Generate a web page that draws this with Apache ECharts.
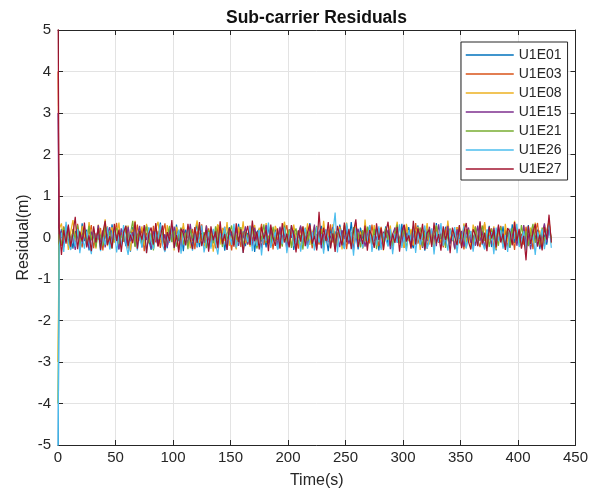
<!DOCTYPE html>
<html>
<head>
<meta charset="utf-8">
<script src="https://cdn.jsdelivr.net/npm/echarts@6/dist/echarts.min.js"></script>
<style>
  html, body { margin: 0; padding: 0; background: #fff; }
  #main { width: 591px; height: 494px; }
</style>
</head>
<body>
<div id="main"></div>
<script>
// sample times (s): start at 0, then every 2 s from 1 to 429
var times = [0];
for (var t = 1; t <= 429; t += 2) { times.push(t); }

var names = ["U1E01", "U1E03", "U1E08", "U1E15", "U1E21", "U1E26", "U1E27"];
var colors = ["#0072BD", "#D95319", "#EDB120", "#7E2F8E", "#77AC30", "#4DBEEE", "#A2142F"];

// residuals (m), one value per sample time
var u1e01 = [
  -6.00, -0.05, 0.21, -0.18, 0.30, -0.12, 0.08, -0.27, 0.16, 0.02, -0.22, 0.34,
  -0.09, 0.19, -0.31, 0.12, 0.04, -0.16, 0.27, -0.25, 0.10, -0.03, 0.23, -0.19,
  0.32, -0.11, 0.06, -0.28, 0.18, 0.09, -0.21, 0.14, -0.34, 0.25, 0.01, -0.13,
  0.20, -0.24, 0.11, 0.29, -0.07, -0.30, 0.17, 0.03, -0.19, 0.36, -0.14, 0.08,
  -0.26, 0.22, 0.05, -0.17, 0.31, -0.09, 0.13, -0.33, 0.19, -0.02, 0.26, -0.20,
  0.07, 0.34, -0.23, 0.12, -0.08, 0.24, -0.29, 0.15, 0.00, -0.18, 0.30, -0.12,
  0.18, -0.32, 0.09, 0.25, -0.15, 0.04, -0.26, 0.33, -0.06, 0.16, -0.21, 0.11,
  -0.04, 0.27, -0.35, 0.13, 0.21, -0.10, 0.06, -0.24, 0.29, -0.17, 0.02, 0.20,
  -0.28, 0.14, -0.07, 0.32, -0.19, 0.08, 0.23, -0.30, 0.12, -0.01, 0.26, -0.16,
  0.05, -0.22, 0.35, -0.11, 0.17, -0.27, 0.10, 0.28, -0.14, 0.03, -0.33, 0.22,
  -0.08, 0.15, -0.20, 0.31, 0.06, -0.25, 0.19, -0.12, 0.37, -0.18, 0.09, -0.29,
  0.24, -0.03, 0.13, -0.23, 0.30, -0.15, 0.07, 0.21, -0.31, 0.16, -0.06, 0.27,
  -0.19, 0.10, -0.28, 0.18, 0.02, -0.13, 0.33, -0.21, 0.08, 0.25, -0.10, -0.26,
  0.14, 0.29, -0.17, 0.05, -0.32, 0.22, -0.04, 0.16, -0.24, 0.35, -0.12, 0.09,
  -0.20, 0.26, 0.01, -0.15, 0.19, -0.29, 0.12, 0.04, -0.22, 0.31, -0.08, 0.17,
  0.03, -0.27, 0.23, -0.11, 0.36, -0.18, 0.08, -0.05, 0.28, -0.23, 0.14, -0.31,
  0.20, -0.09, 0.27, -0.16, 0.06, -0.25, 0.32, -0.13, 0.11, 0.02, -0.20, 0.24,
  -0.14, 0.30, -0.22, 0.09, -0.06, 0.19, -0.28, 0.15, 0.04, -0.17, 0.26, -0.08
];
var u1e03 = [
  4.00, 0.12, -0.20, 0.27, -0.06, 0.15, -0.29, 0.21, -0.11, 0.33, -0.02, -0.24,
  0.18, -0.14, 0.07, 0.30, -0.26, 0.10, -0.05, 0.23, -0.31, 0.14, 0.26, -0.09,
  -0.18, 0.08, 0.35, -0.22, 0.13, -0.10, 0.24, -0.27, 0.05, 0.19, -0.15, 0.31,
  -0.07, 0.22, -0.33, 0.11, 0.03, -0.19, 0.28, -0.12, 0.16, -0.25, 0.09, 0.34,
  -0.21, 0.06, 0.25, -0.13, 0.18, -0.30, 0.02, 0.27, -0.16, 0.10, -0.08, 0.21,
  -0.28, 0.15, -0.03, 0.32, -0.20, 0.09, 0.22, -0.14, 0.04, -0.26, 0.30, -0.11,
  0.13, 0.26, -0.19, 0.07, -0.31, 0.18, -0.06, 0.24, -0.23, 0.12, 0.01, -0.17,
  0.29, -0.10, 0.16, -0.24, 0.05, 0.33, -0.18, 0.11, -0.04, 0.20, -0.29, 0.14,
  -0.06, 0.23, -0.15, 0.08, 0.30, -0.22, 0.17, -0.09, 0.03, -0.27, 0.25, -0.13,
  0.19, -0.02, 0.28, -0.26, 0.12, 0.06, -0.17, 0.21, -0.30, 0.15, -0.07, 0.32,
  -0.12, 0.09, -0.23, 0.27, -0.05, 0.18, -0.28, 0.13, 0.04, -0.19, 0.36, -0.10,
  0.16, -0.25, 0.07, 0.22, -0.14, 0.31, -0.08, 0.02, -0.21, 0.26, -0.16, 0.11,
  -0.03, 0.20, -0.30, 0.14, 0.24, -0.11, 0.06, -0.25, 0.29, -0.07, 0.17, -0.20,
  0.35, -0.15, 0.10, -0.06, 0.21, -0.27, 0.13, 0.03, -0.18, 0.26, -0.12, 0.08,
  -0.24, 0.17, 0.31, -0.09, 0.04, -0.21, 0.25, -0.14, 0.11, -0.29, 0.20, 0.02,
  0.15, -0.19, 0.27, -0.04, -0.23, 0.12, 0.33, -0.16, 0.07, 0.22, -0.26, 0.10,
  -0.08, 0.28, -0.13, 0.19, -0.24, 0.05, 0.14, -0.30, 0.23, -0.02, 0.09, -0.17,
  0.26, -0.11, 0.18, -0.28, 0.12, 0.35, -0.15, 0.06, -0.20, 0.17, 0.40, -0.07
];
var u1e08 = [
  -3.00, 0.20, 0.34, -0.10, 0.24, -0.30, 0.13, 0.42, -0.08, 0.19, -0.25, 0.28,
  0.06, -0.18, 0.37, -0.05, 0.15, -0.27, 0.31, 0.09, -0.14, 0.44, -0.21, 0.11,
  0.25, -0.12, 0.03, 0.36, -0.23, 0.17, -0.07, 0.29, -0.32, 0.14, 0.40, -0.16,
  0.08, 0.27, -0.19, 0.33, -0.04, 0.12, -0.28, 0.21, 0.38, -0.11, 0.05, -0.22,
  0.30, -0.06, 0.18, -0.31, 0.26, 0.10, -0.15, 0.35, -0.09, 0.22, -0.26, 0.04,
  0.16, 0.41, -0.13, 0.07, -0.24, 0.29, -0.02, 0.19, -0.34, 0.12, 0.32, -0.17,
  0.23, -0.08, 0.37, -0.20, 0.09, 0.14, -0.29, 0.26, -0.05, 0.39, -0.14, 0.06,
  -0.22, 0.18, 0.30, -0.11, 0.24, -0.27, 0.02, 0.35, -0.16, 0.13, -0.06, 0.28,
  0.10, -0.25, 0.21, 0.38, -0.12, 0.05, -0.20, 0.31, -0.03, 0.17, -0.30, 0.26,
  -0.09, 0.34, -0.18, 0.11, 0.27, -0.23, 0.08, -0.13, 0.40, -0.07, 0.19, -0.26,
  0.32, 0.04, -0.16, 0.25, -0.29, 0.15, 0.36, -0.10, 0.06, -0.21, 0.28, -0.04,
  0.13, -0.27, 0.43, -0.12, 0.20, -0.06, 0.30, -0.19, 0.09, 0.24, -0.31, 0.17,
  -0.05, 0.29, -0.22, 0.12, 0.38, -0.15, 0.03, -0.25, 0.33, -0.09, 0.21, -0.18,
  0.07, 0.26, -0.30, 0.19, -0.02, 0.35, -0.17, 0.11, -0.24, 0.29, 0.05, -0.13,
  0.22, -0.20, 0.41, -0.08, 0.16, -0.28, 0.25, 0.01, -0.19, 0.34, -0.11, 0.14,
  -0.26, 0.31, 0.08, -0.15, 0.23, -0.07, 0.37, -0.21, 0.12, -0.03, 0.27, -0.29,
  0.18, 0.06, -0.23, 0.33, -0.10, 0.20, -0.17, 0.40, -0.06, 0.15, -0.25, 0.28,
  0.02, -0.19, 0.24, -0.12, 0.36, -0.08, 0.17, -0.27, 0.31, 0.09, 0.38, -0.14
];
var u1e15 = [
  3.00, -0.12, 0.16, -0.23, 0.09, 0.27, -0.18, 0.04, -0.30, 0.21, 0.11, -0.15,
  0.24, -0.07, -0.26, 0.14, 0.02, -0.19, 0.30, -0.11, 0.17, -0.24, 0.06, 0.25,
  -0.14, 0.19, -0.03, -0.29, 0.22, 0.08, -0.16, 0.26, -0.09, 0.13, -0.21, 0.04,
  0.28, -0.17, 0.10, -0.06, 0.23, -0.27, 0.15, 0.01, -0.20, 0.31, -0.12, 0.07,
  -0.23, 0.18, -0.10, 0.26, -0.04, 0.12, -0.28, 0.20, 0.05, -0.15, 0.33, -0.08,
  0.14, -0.24, 0.07, 0.21, -0.13, 0.29, -0.05, -0.22, 0.16, 0.03, -0.18, 0.25,
  -0.09, 0.12, -0.27, 0.19, 0.06, -0.14, 0.23, -0.20, 0.10, -0.02, 0.27, -0.16,
  0.08, -0.21, 0.24, -0.07, 0.15, -0.25, 0.03, 0.30, -0.13, 0.18, -0.09, 0.11,
  -0.19, 0.26, -0.05, 0.13, -0.28, 0.20, -0.01, 0.17, -0.24, 0.09, 0.29, -0.12,
  0.04, -0.17, 0.22, -0.08, 0.31, -0.20, 0.14, -0.26, 0.07, 0.19, -0.11, 0.01,
  0.25, -0.14, 0.09, -0.23, 0.18, -0.04, 0.28, -0.16, 0.12, -0.30, 0.06, 0.21,
  -0.10, 0.16, -0.22, 0.05, 0.27, -0.18, 0.11, -0.07, 0.23, -0.26, 0.14, -0.02,
  0.19, -0.28, 0.08, 0.24, -0.12, 0.02, -0.19, 0.30, -0.06, 0.15, -0.24, 0.10,
  -0.15, 0.21, 0.03, -0.25, 0.17, -0.09, 0.26, -0.13, 0.05, -0.21, 0.32, -0.04,
  0.12, -0.18, 0.28, -0.11, 0.07, -0.27, 0.20, -0.03, 0.16, -0.22, 0.09, 0.24,
  -0.13, 0.05, -0.20, 0.29, -0.08, 0.14, -0.26, 0.18, 0.02, -0.16, 0.23, -0.10,
  0.27, -0.06, 0.11, -0.24, 0.19, -0.14, 0.04, 0.25, -0.20, 0.13, -0.07, 0.30,
  -0.17, 0.08, -0.29, 0.22, -0.03, 0.16, -0.23, 0.10, 0.34, -0.12, 0.20, -0.05
];
var u1e21 = [
  -4.00, 0.08, -0.17, 0.25, -0.09, 0.14, -0.26, 0.19, -0.03, 0.30, -0.20, 0.06,
  0.21, -0.13, 0.28, -0.07, 0.11, -0.24, 0.16, 0.04, -0.21, 0.33, -0.10, 0.15,
  -0.27, 0.12, 0.23, -0.15, 0.05, -0.09, 0.29, -0.18, 0.10, 0.40, -0.23, 0.02,
  0.17, -0.20, 0.07, 0.26, -0.14, 0.09, -0.31, 0.18, -0.05, 0.22, 0.13, -0.25,
  0.04, 0.28, -0.11, 0.16, -0.22, 0.07, 0.24, -0.17, 0.12, -0.28, 0.20, -0.02,
  0.10, -0.19, 0.31, -0.06, 0.13, -0.26, 0.18, 0.05, -0.14, 0.27, -0.08, 0.16,
  -0.23, 0.20, -0.04, 0.11, 0.29, -0.18, 0.07, -0.12, 0.25, -0.21, 0.14, 0.01,
  -0.16, 0.23, 0.09, -0.27, 0.17, -0.06, 0.32, -0.13, 0.04, -0.20, 0.26, -0.09,
  0.13, 0.02, -0.22, 0.27, -0.10, 0.19, -0.25, 0.08, 0.22, -0.15, 0.06, -0.29,
  0.24, -0.08, 0.15, -0.19, 0.03, 0.28, -0.12, 0.18, -0.24, 0.10, 0.01, -0.17,
  0.20, -0.26, 0.12, 0.05, -0.14, 0.30, -0.07, 0.16, -0.21, 0.25, -0.03, 0.11,
  -0.24, 0.18, -0.09, 0.26, 0.03, -0.16, 0.21, -0.28, 0.14, 0.07, -0.12, 0.23,
  -0.06, 0.15, -0.20, 0.09, 0.31, -0.13, 0.04, 0.19, -0.27, 0.12, -0.01, 0.26,
  -0.15, 0.08, 0.24, -0.22, 0.13, -0.05, 0.20, -0.18, 0.10, 0.28, -0.11, 0.03,
  0.18, -0.25, 0.06, 0.22, -0.09, 0.16, -0.21, 0.27, -0.04, 0.11, -0.26, 0.19,
  0.07, -0.12, 0.25, -0.17, 0.02, 0.29, -0.08, 0.14, -0.23, 0.21, -0.05, 0.12,
  -0.20, 0.26, -0.11, 0.04, 0.17, -0.24, 0.23, -0.02, 0.13, -0.18, 0.30, -0.07,
  0.15, -0.21, 0.08, 0.33, -0.13, 0.05, -0.19, 0.24, -0.10, 0.14, 0.28, -0.03
];
var u1e26 = [
  -6.00, -0.20, 0.12, -0.35, 0.38, -0.14, -0.30, 0.09, -0.22, 0.20, -0.38, 0.05,
  -0.27, 0.15, -0.12, -0.40, 0.22, -0.08, 0.10, -0.33, 0.02, -0.18, 0.26, -0.29,
  -0.05, 0.18, -0.36, 0.07, -0.21, 0.30, -0.15, -0.42, 0.11, -0.06, 0.23, -0.31,
  0.03, -0.24, 0.16, -0.37, 0.25, -0.10, -0.28, 0.14, -0.03, 0.32, -0.19, -0.35,
  0.08, -0.13, 0.27, -0.26, -0.04, 0.19, -0.39, 0.12, -0.17, 0.24, -0.07, -0.32,
  0.17, -0.23, 0.04, 0.29, -0.36, -0.09, 0.13, -0.27, 0.21, -0.14, -0.41, 0.10,
  -0.02, 0.25, -0.30, 0.06, -0.18, 0.33, -0.24, -0.06, 0.15, -0.37, 0.09, -0.11,
  0.28, -0.33, 0.01, -0.20, 0.18, -0.43, 0.11, -0.08, 0.36, -0.25, -0.04, 0.14,
  -0.29, 0.07, -0.16, 0.24, -0.38, 0.02, 0.30, -0.21, -0.10, 0.16, -0.34, 0.05,
  0.22, -0.27, -0.05, 0.13, -0.31, 0.26, -0.12, 0.08, -0.39, 0.19, -0.02, -0.24,
  0.11, 0.60, -0.36, 0.20, -0.15, -0.28, 0.34, -0.07, 0.12, -0.44, 0.23, -0.17,
  0.04, -0.26, 0.17, -0.09, 0.30, -0.35, 0.06, -0.19, 0.27, -0.30, 0.10, -0.04,
  -0.22, 0.21, -0.40, 0.09, -0.13, 0.32, -0.25, 0.02, -0.33, 0.18, -0.08, 0.26,
  -0.37, 0.12, -0.18, 0.05, 0.29, -0.27, -0.06, 0.22, -0.41, 0.14, -0.11, 0.35,
  -0.20, 0.03, -0.32, 0.19, -0.07, 0.25, -0.38, 0.10, -0.15, 0.28, -0.26, 0.01,
  0.16, -0.34, 0.08, -0.21, 0.31, -0.12, -0.29, 0.20, -0.03, 0.13, -0.40, 0.24,
  -0.09, 0.17, -0.27, 0.06, -0.35, 0.22, -0.14, 0.04, 0.33, -0.23, -0.06, 0.15,
  -0.31, 0.26, -0.18, 0.09, -0.42, 0.14, -0.05, 0.20, -0.28, 0.11, 0.30, -0.25
];
var u1e27 = [
  6.00, 0.25, -0.42, 0.18, -0.15, 0.31, -0.22, 0.08, 0.50, -0.28, 0.14, -0.10,
  0.36, -0.24, 0.05, -0.33, 0.27, -0.12, 0.22, -0.30, 0.11, 0.40, -0.18, 0.03,
  -0.26, 0.33, -0.08, 0.19, -0.35, 0.12, 0.28, -0.20, 0.07, -0.14, 0.38, -0.27,
  0.16, -0.05, 0.30, -0.38, 0.09, 0.24, -0.17, 0.35, -0.22, 0.02, 0.29, -0.31,
  0.13, -0.09, 0.42, -0.25, 0.06, -0.36, 0.21, 0.10, -0.19, 0.33, -0.04, -0.28,
  0.25, -0.13, 0.37, -0.21, 0.04, 0.18, -0.34, 0.27, -0.07, 0.15, -0.26, 0.39,
  -0.16, 0.08, -0.30, 0.23, 0.12, -0.22, 0.34, -0.11, 0.20, -0.37, 0.06, 0.28,
  -0.18, 0.41, -0.09, 0.14, -0.29, 0.26, -0.03, 0.19, -0.33, 0.31, 0.00, -0.20,
  0.22, -0.27, 0.35, -0.12, 0.09, -0.24, 0.30, 0.05, -0.36, 0.17, -0.10, 0.27,
  -0.21, 0.13, 0.32, -0.15, 0.04, -0.31, 0.62, -0.18, 0.24, -0.08, 0.37, -0.26,
  0.10, -0.35, 0.28, 0.03, -0.19, 0.36, -0.12, 0.21, -0.28, 0.15, 0.44, -0.23,
  0.07, -0.16, 0.29, -0.32, 0.18, 0.02, -0.25, 0.34, -0.06, 0.23, -0.30, 0.12,
  0.38, -0.20, 0.09, -0.13, 0.26, -0.34, 0.16, 0.31, -0.10, 0.05, -0.27, 0.40,
  -0.17, 0.22, -0.04, 0.33, -0.29, 0.11, 0.19, -0.23, 0.36, -0.14, 0.08, -0.32,
  0.27, -0.06, 0.17, -0.38, 0.24, 0.01, -0.18, 0.30, -0.26, 0.13, 0.35, -0.11,
  -0.29, 0.20, 0.06, -0.21, 0.39, -0.15, 0.12, -0.33, 0.26, -0.02, 0.18, -0.24,
  0.31, -0.12, 0.08, -0.30, 0.23, 0.14, -0.19, 0.37, -0.09, 0.21, -0.27, 0.04,
  -0.55, 0.28, -0.16, 0.11, 0.33, -0.22, 0.07, -0.31, 0.25, -0.05, 0.55, -0.12
];
var allVals = [u1e01, u1e03, u1e08, u1e15, u1e21, u1e26, u1e27];

var axisColor = "#262626";
var gridColor = "#e3e3e3";
var font = "'Liberation Sans', Arial, sans-serif";

var series = [];
for (var s = 0; s < names.length; s++) {
  var vals = allVals[s];
  series.push({
    name: names[s],
    type: "line",
    symbol: "none",
    xAxisIndex: 0,
    yAxisIndex: 0,
    color: colors[s],
    lineStyle: { width: 1.2, color: colors[s] },
    data: times.map(function (t, i) { return [t, vals[i]]; })
  });
}

var chart = echarts.init(document.getElementById("main"), null, { renderer: "canvas" });
chart.setOption({
  animation: false,
  backgroundColor: "#fff",
  title: {
    text: "Sub-carrier Residuals",
    left: 226,
    top: 9,
    padding: 0,
    textStyle: { fontFamily: font, fontSize: 17.5, fontWeight: "bold", color: "#111" }
  },
  legend: {
    orient: "vertical",
    left: 461,
    top: 42,
    padding: [6, 6, 4, 4],
    itemWidth: 48,
    itemHeight: 14,
    itemGap: 5,
    backgroundColor: "#fff",
    borderColor: axisColor,
    borderWidth: 1,
    borderRadius: 0,
    itemStyle: { opacity: 0 },
    lineStyle: { width: 1.5 },
    data: names,
    textStyle: { fontFamily: font, fontSize: 14, color: axisColor }
  },
  grid: { left: 58, right: 13, top: 30, bottom: 48, containLabel: false },
  xAxis: [{
    type: "value",
    min: 0, max: 450, interval: 50,
    name: "Time(s)",
    nameLocation: "middle",
    nameGap: 28,
    nameMoveOverlap: false,
    nameTextStyle: { fontFamily: font, fontSize: 16, color: axisColor },
    axisLine: { show: true, onZero: false, lineStyle: { color: axisColor, width: 1 } },
    axisTick: { show: true, inside: true, length: 5, lineStyle: { color: axisColor } },
    axisLabel: { fontFamily: font, fontSize: 15, color: axisColor, margin: 5 },
    splitLine: { show: true, lineStyle: { color: gridColor, width: 1 } }
  }, {
    type: "value",
    position: "top",
    min: 0, max: 450, interval: 50,
    axisLine: { show: true, onZero: false, lineStyle: { color: axisColor, width: 1 } },
    axisTick: { show: true, inside: true, length: 5, lineStyle: { color: axisColor } },
    axisLabel: { show: false },
    splitLine: { show: false }
  }],
  yAxis: [{
    type: "value",
    min: -5, max: 5, interval: 1,
    name: "Residual(m)",
    nameLocation: "middle",
    nameGap: 26,
    nameMoveOverlap: false,
    nameTextStyle: { fontFamily: font, fontSize: 16, color: axisColor },
    axisLine: { show: true, onZero: false, lineStyle: { color: axisColor, width: 1 } },
    axisTick: { show: true, inside: true, length: 5, lineStyle: { color: axisColor } },
    axisLabel: { fontFamily: font, fontSize: 15, color: axisColor, margin: 7 },
    splitLine: { show: true, lineStyle: { color: gridColor, width: 1 } }
  }, {
    type: "value",
    position: "right",
    min: -5, max: 5, interval: 1,
    axisLine: { show: true, onZero: false, lineStyle: { color: axisColor, width: 1 } },
    axisTick: { show: true, inside: true, length: 5, lineStyle: { color: axisColor } },
    axisLabel: { show: false },
    splitLine: { show: false }
  }],
  series: series
});
</script>
</body>
</html>
